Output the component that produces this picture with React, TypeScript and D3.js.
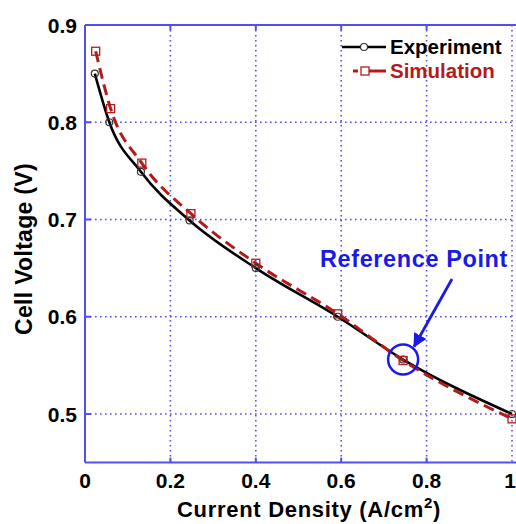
import React from 'react';
import * as d3 from 'd3';

const expX = [0.023, 0.057, 0.131, 0.245, 0.4, 0.592, 0.745, 1.0];
const expY = [0.85, 0.8, 0.749, 0.699, 0.65, 0.6, 0.556, 0.5];
const simX = [0.025, 0.06, 0.133, 0.248, 0.4, 0.592, 0.745, 1.0];
const simY = [0.873, 0.814, 0.758, 0.706, 0.655, 0.603, 0.555, 0.495];
const xTicks = [0, 0.2, 0.4, 0.6, 0.8, 1];
const yTicks = [0.5, 0.6, 0.7, 0.8, 0.9];
const refPoint = { x: 0.745, y: 0.556 };

const W = 516, H = 524;
const FONT = '"Liberation Sans", Arial, sans-serif';
const BLUE = '#5350ea';
const RED = '#b31b1b';
const ANN = '#1a1ae6';

export default function App() {
  const x = d3.scaleLinear().domain([0, 1]).range([85, 512]);
  const y = d3.scaleLinear().domain([0.45, 0.9]).range([462.6, 25]);
  const line = d3.line<[number, number]>().x(d => x(d[0])).y(d => y(d[1])).curve(d3.curveMonotoneX);
  const exp = expX.map((v, i) => [v, expY[i]] as [number, number]);
  const sim = simX.map((v, i) => [v, simY[i]] as [number, number]);
  const rx = x(refPoint.x), ry = y(refPoint.y);

  return (
    <svg width={W} height={H} style={{ position: 'absolute', left: 0, top: 0, background: '#fff' }} fontFamily={FONT}>
      <defs>
        <marker id="arr" viewBox="0 0 10 10" refX="9" refY="5" markerWidth="5" markerHeight="5" orient="auto">
          <path d="M0,0 L10,5 L0,10 z" fill={ANN} />
        </marker>
      </defs>
      {/* grid */}
      {xTicks.slice(1).map(t => (
        <line key={'gx' + t} x1={x(t)} x2={x(t)} y1={y(0.9)} y2={y(0.45)} stroke={BLUE} strokeWidth={1.6} strokeDasharray="1.6,3.4" />
      ))}
      {yTicks.slice(0, -1).map(t => (
        <line key={'gy' + t} x1={x(0)} x2={x(1)} y1={y(t)} y2={y(t)} stroke={BLUE} strokeWidth={1.6} strokeDasharray="1.6,3.4" />
      ))}
      {/* inner tick marks */}
      {xTicks.slice(1, -1).map(t => (
        <g key={'tx' + t}>
          <line x1={x(t)} x2={x(t)} y1={y(0.45)} y2={y(0.45) - 5} stroke={BLUE} strokeWidth={2} />
          <line x1={x(t)} x2={x(t)} y1={y(0.9)} y2={y(0.9) + 5} stroke={BLUE} strokeWidth={2} />
        </g>
      ))}
      {yTicks.slice(0, -1).map(t => (
        <line key={'ty' + t} x1={x(0)} x2={x(0) + 6} y1={y(t)} y2={y(t)} stroke={BLUE} strokeWidth={2} />
      ))}
      {/* frame */}
      <line x1={x(0)} x2={x(0)} y1={y(0.9)} y2={y(0.45)} stroke={BLUE} strokeWidth={2} />
      <line x1={x(0)} x2={W} y1={y(0.45)} y2={y(0.45)} stroke={BLUE} strokeWidth={2} />
      <line x1={x(0)} x2={W} y1={y(0.9)} y2={y(0.9)} stroke={BLUE} strokeWidth={2} />

      {/* series */}
      <path d={line(exp) ?? ''} fill="none" stroke="#000" strokeWidth={2.6} />
      <path d={line(sim) ?? ''} fill="none" stroke={RED} strokeWidth={3} strokeDasharray="11,6" />
      {exp.map((d, i) => (
        <circle key={'e' + i} cx={x(d[0])} cy={y(d[1])} r={3.5} fill="none" stroke="#333" strokeWidth={1.2} />
      ))}
      {sim.map((d, i) => (
        <rect key={'s' + i} x={x(d[0]) - 4} y={y(d[1]) - 4} width={8} height={8} fill="none" stroke={RED} strokeWidth={1.3} />
      ))}

      {/* tick labels */}
      {yTicks.map(t => (
        <text key={'ly' + t} x={77} y={y(t)} dy="0.36em" textAnchor="end" fontSize={21} fontWeight="bold">{d3.format('.1f')(t)}</text>
      ))}
      {xTicks.map(t => (
        <text key={'lx' + t} x={t === 1 ? W : x(t)} y={488} textAnchor={t === 1 ? 'end' : 'middle'} fontSize={21} fontWeight="bold">{t === 0 || t === 1 ? String(t) : d3.format('.1f')(t)}</text>
      ))}

      {/* axis titles */}
      <text x={309} y={517} textAnchor="middle" fontSize={22} fontWeight="bold" letterSpacing={0.7}>
        Current Density (A/cm<tspan dy="-9" fontSize={15}>2</tspan><tspan dy="9">)</tspan>
      </text>
      <text transform={`translate(32,249) rotate(-90)`} textAnchor="middle" fontSize={23} fontWeight="bold" letterSpacing={0.3}>Cell Voltage (V)</text>

      {/* legend */}
      <line x1={342} x2={386} y1={47} y2={47} stroke="#000" strokeWidth={2.6} />
      <circle cx={364} cy={47} r={3.5} fill="#fff" stroke="#333" strokeWidth={1.2} />
      <text x={390} y={47} dy="0.36em" fontSize={20.5} fontWeight="bold">Experiment</text>
      <line x1={353} x2={386} y1={71} y2={71} stroke={RED} strokeWidth={3} strokeDasharray="5,4,30" />
      <rect x={361} y={67} width={8} height={8} fill="#fff" stroke={RED} strokeWidth={1.3} />
      <text x={390} y={71} dy="0.36em" fontSize={20.5} fontWeight="bold" fill={RED}>Simulation</text>

      {/* reference point annotation */}
      <text x={414} y={267} textAnchor="middle" fontSize={23.5} fontWeight="bold" letterSpacing={0.6} fill={ANN}>Reference Point</text>
      <circle cx={rx} cy={ry} r={15} fill="none" stroke={ANN} strokeWidth={2.5} />
      <line x1={452} y1={279} x2={rx + 11} y2={ry - 13} stroke={ANN} strokeWidth={2.8} markerEnd="url(#arr)" />
    </svg>
  );
}
